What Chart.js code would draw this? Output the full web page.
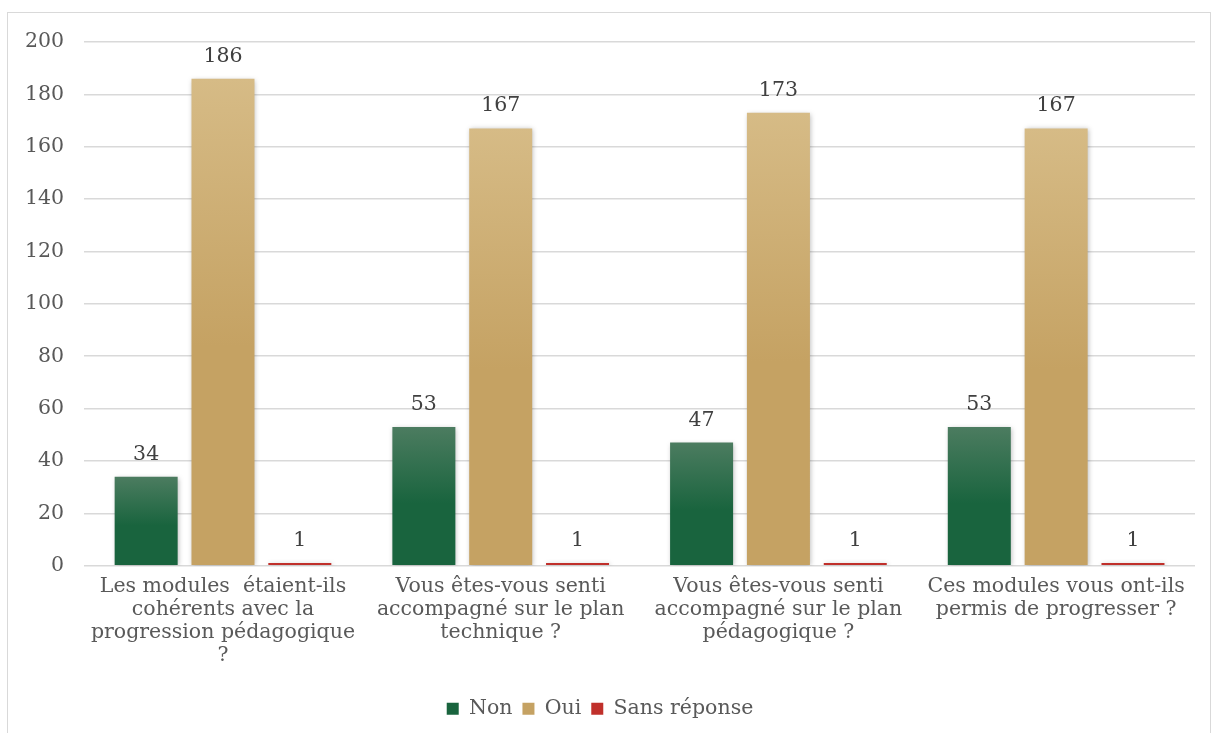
<!DOCTYPE html>
<html>
<head>
<meta charset="utf-8">
<script src="https://cdn.jsdelivr.net/npm/chart.js@4.4.1/dist/chart.umd.min.js"></script>
<style>
  body { margin: 0; background: #fff; }
  #frame { position: absolute; left: 7px; top: 12px; width: 1202px; height: 730px; border: 1px solid #d9d9d9; }
  #wrap { position: absolute; left: 0; top: 0; width: 1214px; height: 733px; }
</style>
</head>
<body>
<div id="frame"></div>
<div id="wrap"><canvas id="surveyChart"></canvas></div>
<script>
const categories = [
    ['Les modules  étaient-ils', 'cohérents avec la', 'progression pédagogique', '?'],
    ['Vous êtes-vous senti', 'accompagné sur le plan', 'technique ?'],
    ['Vous êtes-vous senti', 'accompagné sur le plan', 'pédagogique ?'],
    ['Ces modules vous ont-ils', 'permis de progresser ?']
];
const seriesNames = ['Non', 'Oui', 'Sans réponse'];
const nonValues = [34, 53, 47, 53];
const ouiValues = [186, 167, 173, 167];
const sansReponseValues = [1, 1, 1, 1];
const yTicks = [0, 20, 40, 60, 80, 100, 120, 140, 160, 180, 200];

const FONT = '"DejaVu Serif", Georgia, serif';

// light top -> dark lower half, like the Excel gradient fill
function barGradient(light, dark) {
    return function (ctx) {
        const chart = ctx.chart;
        if (!chart.chartArea || ctx.type !== 'data') return dark;
        const y = chart.scales.y;
        const top = y.getPixelForValue(ctx.parsed.y);
        const bottom = y.getPixelForValue(0);
        if (bottom - top < 2) return dark;
        const g = chart.ctx.createLinearGradient(0, top, 0, bottom);
        g.addColorStop(0, light);
        g.addColorStop(0.55, dark);
        g.addColorStop(1, dark);
        return g;
    };
}

const valueLabels = {
    id: 'valueLabels',
    afterDatasetsDraw(chart) {
        const ctx = chart.ctx;
        ctx.save();
        ctx.font = '20.5px ' + FONT;
        ctx.fillStyle = '#404040';
        ctx.textAlign = 'center';
        ctx.textBaseline = 'bottom';
        chart.data.datasets.forEach(function (ds, i) {
            chart.getDatasetMeta(i).data.forEach(function (bar, j) {
                ctx.fillText(ds.data[j], bar.x, bar.y - 12);
            });
        });
        ctx.restore();
    }
};

const barShadow = {
    id: 'barShadow',
    beforeDatasetsDraw(chart) {
        chart.ctx.save();
        chart.ctx.shadowColor = 'rgba(0,0,0,0.28)';
        chart.ctx.shadowBlur = 5;
        chart.ctx.shadowOffsetX = 1;
        chart.ctx.shadowOffsetY = 1;
    },
    afterDatasetsDraw(chart) {
        chart.ctx.restore();
    }
};

new Chart(document.getElementById('surveyChart'), {
    type: 'bar',
    data: {
        labels: categories,
        datasets: [{
            label: seriesNames[0],
            data: nonValues,
            backgroundColor: barGradient('#4c7c60', '#19643e')
        },
        {
            label: seriesNames[1],
            data: ouiValues,
            backgroundColor: barGradient('#d6bb86', '#c5a263')
        },
        {
            label: seriesNames[2],
            data: sansReponseValues,
            backgroundColor: '#c0302b'
        }]
    },
    options: {
        responsive: true,
        maintainAspectRatio: false,
        animation: false,
        layout: { padding: { left: 5, right: 19, top: 42, bottom: 4 } },
        datasets: { bar: { categoryPercentage: 0.83, barPercentage: 0.82 } },
        scales: {
            x: {
                grid: { display: false, drawTicks: false },
                border: { display: false },
                afterFit(axis) { axis.height += 11; },
                ticks: {
                    color: '#595959',
                    font: { family: FONT, size: 20.5, lineHeight: 1.12 },
                    padding: 10,
                    maxRotation: 0,
                    autoSkip: false
                }
            },
            y: {
                min: 0,
                max: 200,
                afterBuildTicks(axis) {
                    axis.ticks = yTicks.map(function (v) { return { value: v }; });
                },
                grid: { color: '#d9d9d9', lineWidth: 1.5, drawTicks: false },
                border: { display: false },
                ticks: {
                    color: '#595959',
                    font: { family: FONT, size: 20.5 },
                    padding: 20
                }
            }
        },
        plugins: {
            legend: {
                position: 'bottom',
                labels: {
                    color: '#595959',
                    font: { family: FONT, size: 20.5 },
                    boxWidth: 12,
                    boxHeight: 12,
                    padding: 10
                }
            },
            tooltip: { enabled: false }
        }
    },
    plugins: [barShadow, valueLabels]
});
</script>
</body>
</html>
